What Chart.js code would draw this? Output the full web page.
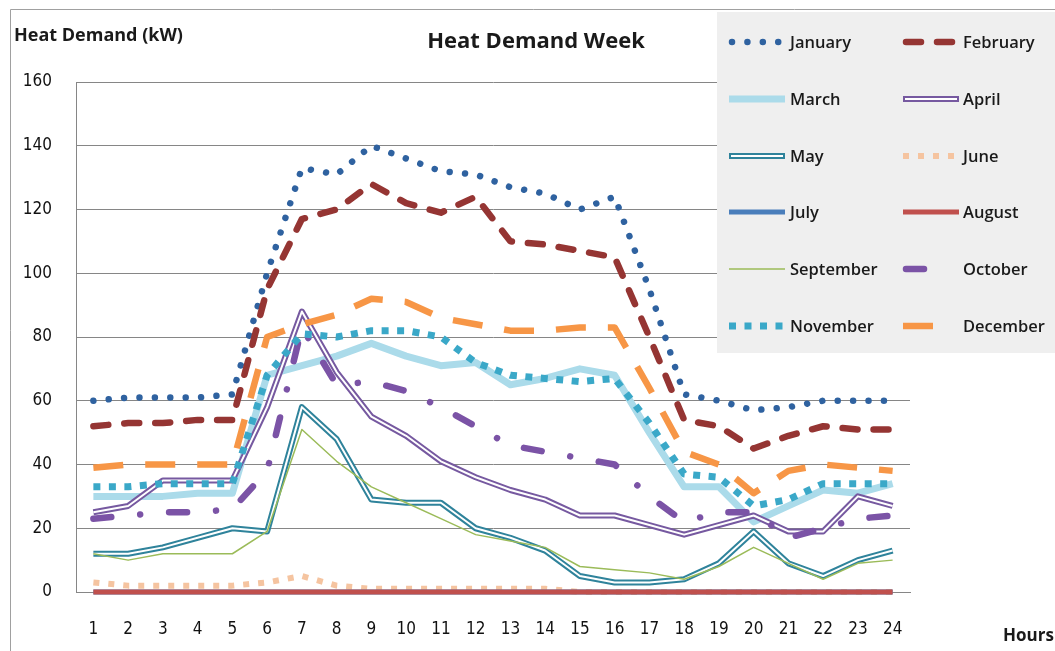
<!DOCTYPE html>
<html>
<head>
<meta charset="utf-8">
<script src="https://cdn.jsdelivr.net/npm/chart.js@4/dist/chart.umd.min.js"></script>
<style>
  html, body { margin: 0; padding: 0; background: #fff; }
  #wrap { width: 1055px; height: 651px; position: relative; }
</style>
</head>
<body>
<div id="wrap"><canvas id="heatChart" width="1055" height="651"></canvas></div>
<script>
// hours of the day
const hours = ['1','2','3','4','5','6','7','8','9','10','11','12','13','14','15','16','17','18','19','20','21','22','23','24'];
const yTicks = [0, 20, 40, 60, 80, 100, 120, 140, 160];

// heat demand per month (kW)
const january   = [60, 61, 61, 61, 62, 100, 133, 131, 140, 136, 132, 131, 127, 125, 120, 124, 95, 62, 60, 57, 58, 60, 60, 60];
const february  = [52, 53, 53, 54, 54, 95, 117, 120, 128, 122, 119, 124, 110, 109, 107, 105, 80, 54, 52, 45, 49, 52, 51, 51];
const march     = [30, 30, 30, 31, 31, 68, 71, 74, 78, 74, 71, 72, 65, 67, 70, 68, 50, 33, 33, 22, 27, 32, 31, 34];
const april     = [25, 27, 35, 35, 35, 58, 88, 69, 55, 49, 41, 36, 32, 29, 24, 24, 21, 18, 21, 24, 19, 19, 30, 27];
const may       = [12, 12, 14, 17, 20, 19, 58, 48, 29, 28, 28, 20, 17, 13, 5, 3, 3, 4, 9, 19, 9, 5, 10, 13];
const june      = [3, 2, 2, 2, 2, 3, 5, 2, 1, 1, 1, 1, 1, 1, 0, 0, 0, 0, 0, 0, 0, 0, 0, 0];
const july      = [0, 0, 0, 0, 0, 0, 0, 0, 0, 0, 0, 0, 0, 0, 0, 0, 0, 0, 0, 0, 0, 0, 0, 0];
const august    = [0, 0, 0, 0, 0, 0, 0, 0, 0, 0, 0, 0, 0, 0, 0, 0, 0, 0, 0, 0, 0, 0, 0, 0];
const september = [12, 10, 12, 12, 12, 19, 51, 41, 33, 28, 23, 18, 16, 14, 8, 7, 6, 4, 8, 14, 9, 4, 9, 10];
const october   = [23, 24, 25, 25, 26, 38, 83, 65, 66, 63, 58, 52, 46, 44, 42, 40, 30, 22, 25, 25, 17, 20, 23, 24];
const november  = [33, 33, 34, 34, 34, 68, 81, 80, 82, 82, 80, 72, 68, 67, 66, 67, 53, 37, 36, 27, 29, 34, 34, 34];
const december  = [39, 40, 40, 40, 40, 80, 84, 87, 92, 91, 86, 84, 82, 82, 83, 83, 64, 44, 40, 31, 38, 40, 39, 38];

const makeSet = (label, data, style) => Object.assign({
  label: label,
  data: data,
  fill: false,
  tension: 0,
  pointRadius: 0,
  pointHoverRadius: 0,
  borderCapStyle: 'butt',
  borderJoinStyle: 'round',
  borderDash: [],
  clip: 10
}, style);

const datasets = [
  makeSet('January', january, { borderColor: '#2f62a0', borderWidth: 6.5, borderDash: [0.01, 15.4], borderCapStyle: 'round' }),
  makeSet('February', february, { borderColor: '#953533', borderWidth: 6.5, borderDash: [15, 16], borderCapStyle: 'round' }),
  makeSet('March', march, { borderColor: '#abdbea', borderWidth: 7 }),
  makeSet('April', april, { borderColor: '#7659a0', borderWidth: 6, innerColor: '#ffffff', innerWidth: 2 }),
  makeSet('May', may, { borderColor: '#2f839b', borderWidth: 6, innerColor: '#ffffff', innerWidth: 2 }),
  makeSet('June', june, { borderColor: '#f5c4a0', borderWidth: 6, borderDash: [6, 9] }),
  makeSet('July', july, { borderColor: '#4a7ebb', borderWidth: 5 }),
  makeSet('August', august, { borderColor: '#c0504d', borderWidth: 5 }),
  makeSet('September', september, { borderColor: '#9bbb59', borderWidth: 1.5 }),
  makeSet('October', october, { borderColor: '#7b53a6', borderWidth: 6.5, borderDash: [18, 29, 0.01, 29], borderCapStyle: 'round', legendLen: 30 }),
  makeSet('November', november, { borderColor: '#3aa8c8', borderWidth: 7, borderDash: [7, 8.5] }),
  makeSet('December', december, { borderColor: '#f79646', borderWidth: 6.5, borderDash: [30, 22], legendLen: 31 })
];
// later series on top, like the original
datasets.forEach((d, i) => { d.order = datasets.length - i; });

// second white stroke for the double-line series
const doubleLine = {
  id: 'doubleLine',
  afterDatasetDraw(chart, args) {
    const ds = chart.data.datasets[args.index];
    if (!ds.innerColor) return;
    const pts = args.meta.data;
    const ctx = chart.ctx;
    ctx.save();
    ctx.strokeStyle = ds.innerColor;
    ctx.lineWidth = ds.innerWidth;
    ctx.lineJoin = 'round';
    ctx.beginPath();
    pts.forEach((p, i) => { if (i === 0) ctx.moveTo(p.x, p.y); else ctx.lineTo(p.x, p.y); });
    ctx.stroke();
    ctx.restore();
  }
};

// titles, border and the grey two-column legend box
const decorations = {
  id: 'decorations',
  afterDraw(chart) {
    const ctx = chart.ctx;
    ctx.save();
    // outer frame
    ctx.strokeStyle = '#a0a0a0';
    ctx.lineWidth = 1;
    ctx.beginPath();
    ctx.moveTo(10.5, 700);
    ctx.lineTo(10.5, 9.5);
    ctx.lineTo(1100, 9.5);
    ctx.stroke();

    ctx.fillStyle = '#1a1a1a';
    ctx.textBaseline = 'middle';
    ctx.font = 'bold 22px "Open Sans", sans-serif';
    ctx.textAlign = 'center';
    ctx.fillText('Heat Demand Week', 536, 42);
    ctx.textAlign = 'left';
    ctx.font = 'bold 18px "Open Sans", sans-serif';
    ctx.fillText('Heat Demand (kW)', 14, 36);
    ctx.font = 'bold 17px "Open Sans", sans-serif';
    ctx.fillText('Hours', 1003, 636);

    // legend
    ctx.fillStyle = '#efefef';
    ctx.fillRect(717, 12, 345, 341);
    const rows = [42, 99, 156, 212, 269, 326];
    const cols = [{ x: 729, tx: 790 }, { x: 903, tx: 963 }];
    ctx.font = '600 16.5px "Open Sans", sans-serif';
    chart.data.datasets.forEach((ds, i) => {
      const col = cols[i % 2];
      const y = rows[Math.floor(i / 2)];
      const len = ds.legendLen || 56;
      ctx.save();
      ctx.strokeStyle = ds.borderColor;
      ctx.lineWidth = ds.borderWidth;
      ctx.lineCap = ds.borderCapStyle;
      ctx.setLineDash(ds.borderDash);
      const x0 = ds.borderCapStyle === 'round' ? col.x + 3 : col.x;
      ctx.beginPath();
      ctx.moveTo(x0, y);
      ctx.lineTo(col.x + len, y);
      ctx.stroke();
      if (ds.innerColor) {
        ctx.strokeStyle = ds.innerColor;
        ctx.lineWidth = ds.innerWidth;
        ctx.beginPath();
        ctx.moveTo(col.x + 2, y);
        ctx.lineTo(col.x + len - 2, y);
        ctx.stroke();
      }
      ctx.restore();
      ctx.fillStyle = '#1a1a1a';
      ctx.fillText(ds.label, col.tx, y + 1);
    });
    ctx.restore();
  }
};

new Chart(document.getElementById('heatChart'), {
  type: 'line',
  data: { labels: hours, datasets: datasets },
  options: {
    responsive: false,
    animation: false,
    events: [],
    layout: { padding: { left: 0, top: 82, right: 145, bottom: 0 } },
    plugins: { legend: { display: false }, title: { display: false }, tooltip: { enabled: false } },
    scales: {
      x: {
        offset: true,
        grid: { display: false, drawTicks: false },
        border: { display: true, color: '#868686', width: 1 },
        ticks: { padding: 27, color: '#111', font: { family: '"Liberation Sans Narrow", "DejaVu Sans Condensed", sans-serif', size: 17 }, maxRotation: 0, autoSkip: false },
        afterFit(scale) { scale.height = 59; }
      },
      y: {
        min: yTicks[0],
        max: yTicks[yTicks.length - 1],
        afterBuildTicks(scale) { scale.ticks = yTicks.map(v => ({ value: v })); },
        grid: { color: '#868686', lineWidth: 1, drawTicks: false },
        border: { display: true, color: '#868686', width: 1 },
        ticks: { padding: 24, color: '#111', font: { family: '"Liberation Sans Narrow", "DejaVu Sans Condensed", sans-serif', size: 17 } },
        afterFit(scale) { scale.width = 76; }
      }
    }
  },
  plugins: [doubleLine, decorations]
});
</script>
</body>
</html>
